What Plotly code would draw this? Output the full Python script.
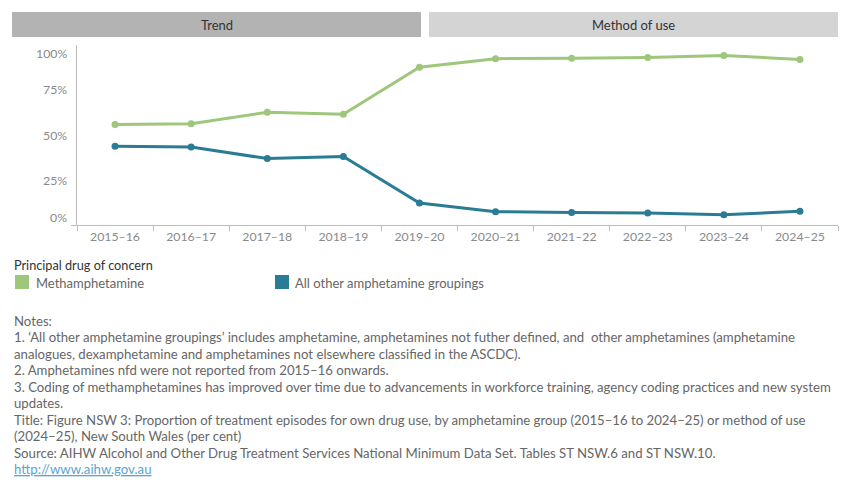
import plotly.graph_objects as go

# ---------------- data ----------------
years = ["2015–16", "2016–17", "2017–18", "2018–19", "2019–20",
         "2020–21", "2021–22", "2022–23", "2023–24", "2024–25"]
methamphetamine = [55.9, 56.3, 62.6, 61.5, 87.6, 92.4, 92.6, 93.1, 94.1, 92.0]
other_amphetamines = [43.7, 43.3, 36.9, 38.1, 12.2, 7.4, 7.0, 6.7, 5.7, 7.6]
y_tick_values = [0, 25, 50, 75, 100]
y_tick_labels = ["0%", "25%", "50%", "75%", "100%"]
panel_titles = ["Trend", "Method of use"]
legend_title = "Principal drug of concern"
series_names = ["Methamphetamine", "All other amphetamine groupings"]
notes = [
    "Notes:",
    "1. ‘All other amphetamine groupings’ includes amphetamine, amphetamines not futher defined, and  other amphetamines (amphetamine",
    "analogues, dexamphetamine and amphetamines not elsewhere classified in the ASCDC).",
    "2. Amphetamines nfd were not reported from 2015–16 onwards.",
    "3. Coding of methamphetamines has improved over time due to advancements in workforce training, agency coding practices and new system",
    "updates.",
    "Title: Figure NSW 3: Proportion of treatment episodes for own drug use, by amphetamine group (2015–16 to 2024–25) or method of use",
    "(2024–25), New South Wales (per cent)",
    "Source: AIHW Alcohol and Other Drug Treatment Services National Minimum Data Set. Tables ST NSW.6 and ST NSW.10.",
]
link_text = "http://www.aihw.gov.au"

# ---------------- style ----------------
W, H = 850, 500
FONT = "Lato"
GREEN = "#9fc77b"
BLUE = "#2a7b94"
AXIS = "#bdbdbd"
TICK_TXT = "#8a8a8a"
TEXT = "#666666"
DARK = "#333333"


def px(x):
    return x / W


def py(y):
    return 1 - y / H


fig = go.Figure()
for name, vals, col in [(series_names[0], methamphetamine, GREEN),
                        (series_names[1], other_amphetamines, BLUE)]:
    fig.add_trace(go.Scatter(
        x=years, y=vals, name=name, mode="lines+markers",
        line=dict(color=col, width=3),
        marker=dict(color=col, size=7),
        showlegend=False,
    ))

shapes = []
annotations = []

# panel headers
headers = [(12, 421, "#b3b3b3", panel_titles[0]), (429, 838, "#d4d4d4", panel_titles[1])]
for x0, x1, col, txt in headers:
    shapes.append(dict(type="rect", xref="paper", yref="paper",
                       x0=px(x0), x1=px(x1), y0=py(37), y1=py(12),
                       fillcolor=col, line=dict(width=0), layer="below"))
    annotations.append(dict(xref="paper", yref="paper", x=px((x0 + x1) / 2), y=py(25),
                            text=txt, showarrow=False, xanchor="center", yanchor="middle",
                            font=dict(family=FONT, size=13, color=DARK)))

# y tick labels (end labels inset like the reference)
for v, t in zip(y_tick_values, y_tick_labels):
    shift = 8 if v == 0 else (-9 if v == 100 else 0)
    annotations.append(dict(xref="paper", yref="y", x=px(69), y=v, yshift=shift,
                            text=t, showarrow=False, xanchor="right", yanchor="middle",
                            font=dict(family=FONT, size=12.3, color=TICK_TXT)))

# legend
annotations.append(dict(xref="paper", yref="paper", x=px(12), y=py(265), text=legend_title,
                        showarrow=False, xanchor="left", yanchor="middle",
                        font=dict(family=FONT, size=12.7, color=DARK)))
for sx, tx, col, name in [(15, 34, GREEN, series_names[0]), (275, 293, BLUE, series_names[1])]:
    shapes.append(dict(type="rect", xref="paper", yref="paper",
                       x0=px(sx), x1=px(sx + 14), y0=py(289), y1=py(275),
                       fillcolor=col, line=dict(width=0)))
    annotations.append(dict(xref="paper", yref="paper", x=px(tx), y=py(282.5), text=name,
                            showarrow=False, xanchor="left", yanchor="middle",
                            font=dict(family=FONT, size=13, color=TEXT)))

# notes
y0 = 320.5
step = 16.5
for i, line in enumerate(notes):
    annotations.append(dict(xref="paper", yref="paper", x=px(12), y=py(y0 + i * step), text=line,
                            showarrow=False, xanchor="left", yanchor="middle",
                            font=dict(family=FONT, size=13.2, color=TEXT)))
annotations.append(dict(xref="paper", yref="paper", x=px(12), y=py(y0 + len(notes) * step),
                        text="<u>" + link_text + "</u>",
                        showarrow=False, xanchor="left", yanchor="middle",
                        font=dict(family=FONT, size=13.2, color="#5aa5cc")))

fig.update_layout(
    width=W, height=H,
    margin=dict(l=0, r=0, t=0, b=0),
    paper_bgcolor="white", plot_bgcolor="white",
    shapes=shapes, annotations=annotations,
    xaxis=dict(domain=[px(77), px(838)], type="category", range=[-0.5, 9.5],
               showline=True, linecolor=AXIS, linewidth=1,
               ticks="outside", tickson="boundaries", ticklen=5, tickcolor=AXIS,
               showgrid=False, zeroline=False,
               tickfont=dict(family=FONT, size=12.3, color=TICK_TXT)),
    yaxis=dict(domain=[py(225), py(45)], range=[0, 100],
               showline=True, linecolor=AXIS, linewidth=1,
               tickvals=[0], ticks="outside", ticklen=5, tickcolor=AXIS,
               showticklabels=False, showgrid=False, zeroline=False),
    hovermode=False,
)

fig.write_html("out.html")
